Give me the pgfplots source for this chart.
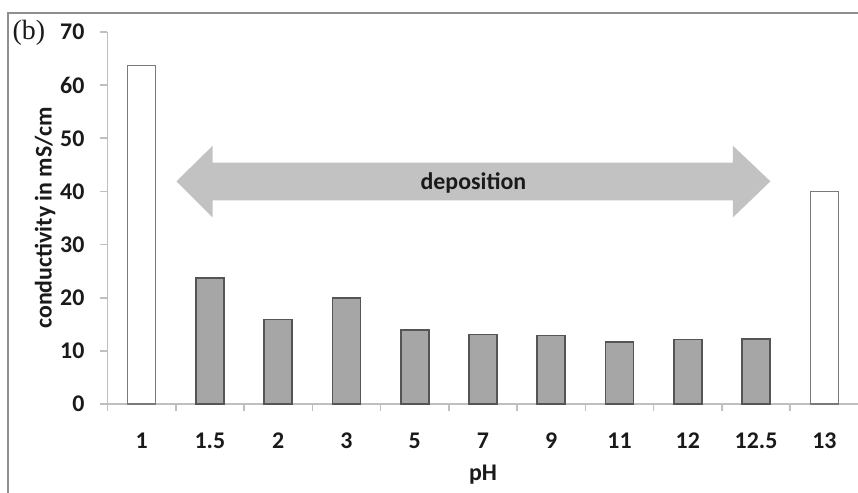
\documentclass[border=0pt]{standalone}
\usepackage{fontspec}
\setmainfont{Carlito}
\newfontfamily\seriffont{Liberation Serif}
\usepackage{pgfplots}
\pgfplotsset{compat=1.18}
\definecolor{arrowgray}{HTML}{C2C2C2}
\definecolor{barfill}{HTML}{A6A6A6}
\definecolor{bardraw}{HTML}{555555}
\definecolor{wbardraw}{HTML}{7A7A7A}
\definecolor{axisgray}{HTML}{BFBFBF}
\definecolor{framegray}{HTML}{8F8F8F}
\definecolor{textc}{HTML}{1A1A1A}
\begin{document}
\begin{tikzpicture}
\useasboundingbox (-53.75bp,-44.5bp) rectangle (375.25bp,202bp);
\draw[framegray, line width=0.9bp] (-49.6bp,-46bp) -- (-49.6bp,195.5bp) -- (380bp,195.5bp);
\node[anchor=west, inner sep=0pt, text=textc, font=\seriffont\fontsize{14}{16}\selectfont] at (-47.6bp,185.5bp) {(b)};
\begin{axis}[
  scale only axis, width=375.5bp, height=186bp,
  at={(0,0)}, anchor=south west,
  xmin=-0.5, xmax=10.5, ymin=0, ymax=70,
  axis lines*=left,
  axis line style={axisgray, line width=0.8bp},
  xtick={-0.5,0.5,1.5,2.5,3.5,4.5,5.5,6.5,7.5,8.5,9.5,10.5},
  x tick label as interval,
  xticklabels={1,1.5,2,3,5,7,9,11,12,12.5,13},
  ytick={0,10,20,30,40,50,60,70},
  tick align=outside,
  major tick length=3.5bp,
  tick style={axisgray, line width=0.8bp},
  /pgf/number format/assume math mode=true,
  ticklabel style={font=\bfseries\fontsize{12}{14}\selectfont, text=textc},
  xticklabel style={yshift=-7.5bp},
  yticklabel style={xshift=-4.5bp},
  xlabel={pH}, ylabel={conductivity in mS/cm},
  label style={font=\bfseries\fontsize{12}{14}\selectfont, text=textc},
  xlabel style={at={(axis description cs:0.5,0)}, anchor=center, yshift=-35.5bp},
  ylabel style={at={(axis description cs:0,0.5)}, anchor=center, yshift=31.25bp},
]
\fill[arrowgray] (axis cs:0.51,41.9) -- (axis cs:1.04,48.6) -- (axis cs:1.04,45.4)
  -- (axis cs:8.66,45.4) -- (axis cs:8.66,48.6) -- (axis cs:9.21,41.9)
  -- (axis cs:8.66,35.1) -- (axis cs:8.66,38.3) -- (axis cs:1.04,38.3)
  -- (axis cs:1.04,35.1) -- cycle;
\node[font=\bfseries\fontsize{12}{14}\selectfont, text=textc] at (axis cs:4.86,41.6) {deposition};
\addplot[ybar, bar shift=0pt, bar width=14bp, fill=barfill, draw=bardraw, line width=0.8bp]
  coordinates {(1,23.7) (2,15.9) (3,20.0) (4,13.9) (5,13.1) (6,12.9) (7,11.7) (8,12.1) (9,12.2)};
\addplot[ybar, bar shift=0pt, bar width=14bp, fill=white, draw=wbardraw, line width=0.8bp]
  coordinates {(0,63.7) (10,40.0)};
\end{axis}
\end{tikzpicture}
\end{document}
